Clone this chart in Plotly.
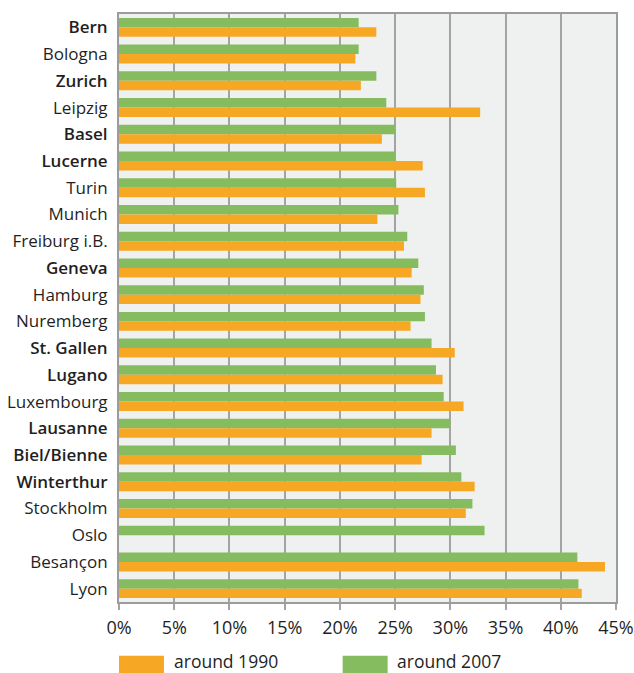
import plotly.graph_objects as go

# Cities, top to bottom; Swiss cities are set in bold
cities = ["Bern", "Bologna", "Zurich", "Leipzig", "Basel", "Lucerne", "Turin",
          "Munich", "Freiburg i.B.", "Geneva", "Hamburg", "Nuremberg",
          "St. Gallen", "Lugano", "Luxembourg", "Lausanne", "Biel/Bienne",
          "Winterthur", "Stockholm", "Oslo", "Besançon", "Lyon"]
swiss = {"Bern", "Zurich", "Basel", "Lucerne", "Geneva", "St. Gallen",
         "Lugano", "Lausanne", "Biel/Bienne", "Winterthur"}

# Shares in percent
around_1990 = [23.3, 21.4, 21.9, 32.7, 23.8, 27.5, 27.7, 23.4, 25.8, 26.5, 27.3,
               26.4, 30.4, 29.3, 31.2, 28.3, 27.4, 32.2, 31.4, None, 44.0, 41.9]
around_2007 = [21.7, 21.7, 23.3, 24.2, 25.0, 25.0, 25.1, 25.3, 26.1, 27.1, 27.6,
               27.7, 28.3, 28.7, 29.4, 30.0, 30.5, 31.0, 32.0, 33.1, 41.5, 41.6]

x_ticks = list(range(0, 50, 5))
x_ticktext = [f"{v}%" for v in x_ticks]

ORANGE = "#F6A824"
GREEN = "#86BC60"
GRID = "#A4A4A4"
TEXT = "#1f1f1f"
FONT = "Open Sans"

fig = go.Figure()
fig.add_trace(go.Bar(y=cities, x=around_2007, orientation="h", name="around 2007",
                     marker=dict(color=GREEN, line=dict(width=0)), showlegend=False))
fig.add_trace(go.Bar(y=cities, x=around_1990, orientation="h", name="around 1990",
                     marker=dict(color=ORANGE, line=dict(width=0)), showlegend=False))

ticktext = [f'<span style="font-weight:600">{c}</span>' if c in swiss else c
            for c in cities]

fig.update_layout(
    width=634, height=673,
    margin=dict(l=119, r=18, t=14, b=71),
    paper_bgcolor="white",
    plot_bgcolor="#EFF0F0",
    barmode="group",
    bargap=0.29,
    bargroupgap=0,
    font=dict(family=FONT, size=17, color=TEXT),
    xaxis=dict(range=[0, 45], tickvals=x_ticks, ticktext=x_ticktext,
               showgrid=True, gridcolor=GRID, gridwidth=2,
               showline=True, linecolor="#9C9C9C", linewidth=2, mirror=True,
               ticks="outside", ticklen=6, tickcolor=GRID, tickwidth=2,
               ticklabelstandoff=2, zeroline=False, automargin=False,
               tickfont=dict(size=18)),
    yaxis=dict(autorange="reversed", tickmode="array", tickvals=cities,
               ticktext=ticktext, showgrid=False,
               showline=True, linecolor="#9C9C9C", linewidth=2, mirror=True,
               ticks="", ticklabelstandoff=6, automargin=False,
               tickfont=dict(size=17)),
)

# Legend: wide colour swatches with labels beneath the plot
legend_items = [("around 1990", ORANGE, 0.0), ("around 2007", GREEN, 0.45)]
for label, color, x0 in legend_items:
    fig.add_shape(type="rect", xref="paper", yref="paper",
                  x0=x0, x1=x0 + 0.0905, y0=-0.121, y1=-0.0915,
                  fillcolor=color, line=dict(width=0))
    fig.add_annotation(text=label, xref="paper", yref="paper",
                       x=x0 + 0.108, y=-0.1, xanchor="left", yanchor="middle",
                       showarrow=False, borderpad=0,
                       font=dict(family=FONT, size=17.5, color=TEXT))

fig.write_html("out.html")
